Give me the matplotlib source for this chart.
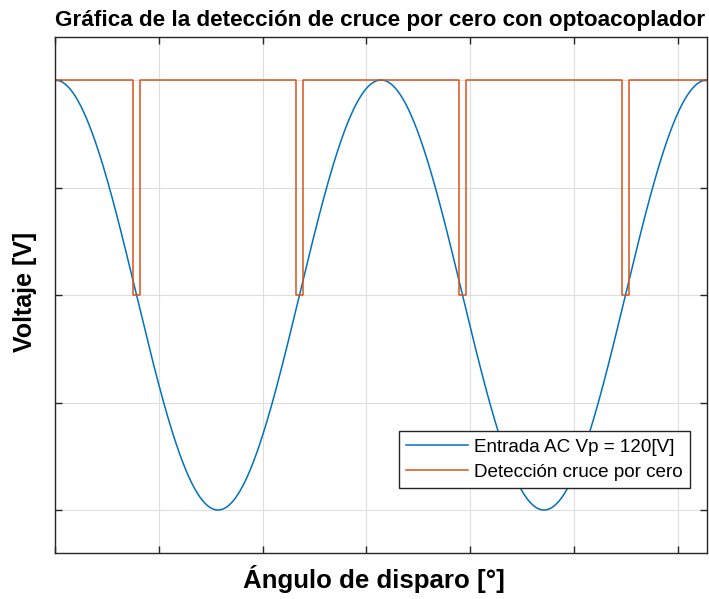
import numpy as np
import matplotlib.pyplot as plt

plt.rcParams['font.family'] = ['Liberation Sans', 'DejaVu Sans']

# Señal de entrada
Vp = 120.0                      # amplitud pico [V]
theta_max = 4 * np.pi           # dos ciclos completos

# Detector de cruce por cero (pulsos a 0 V)
cruces = [np.pi / 2, 3 * np.pi / 2, 5 * np.pi / 2, 7 * np.pi / 2]
ancho_pulso = 0.135             # ancho de cada pulso [rad]
nivel_alto = 120.0
nivel_bajo = 0.0

xticks = [0, 2, 4, 6, 8, 10, 12]
yticks = [-120, -60, 0, 60, 120]

azul = '#0072BD'
naranja = '#D95319'

theta = np.linspace(0, theta_max, 2000)
vin = Vp * np.cos(theta)

# Tren de pulsos: alto salvo alrededor de cada cruce
xs, ys = [0.0], [nivel_alto]
for c in cruces:
    a, b = c - ancho_pulso / 2, c + ancho_pulso / 2
    xs += [a, a, b, b]
    ys += [nivel_alto, nivel_bajo, nivel_bajo, nivel_alto]
xs.append(theta_max)
ys.append(nivel_alto)

fig = plt.figure(figsize=(7.09, 5.99), dpi=100)
ax = fig.add_axes([55 / 709, 1 - 553 / 599, 652 / 709, 516 / 599])

ax.plot(theta, vin, color=azul, lw=1.1, label='Entrada AC Vp = 120[V]')
ax.plot(xs, ys, color=naranja, lw=1.1, label='Detección cruce por cero')

ax.set_xlim(0, theta_max)
ax.set_ylim(-1.2 * Vp, 1.2 * Vp)
ax.set_xticks(xticks)
ax.set_yticks(yticks)
ax.set_xticklabels([])
ax.set_yticklabels([])
ax.tick_params(direction='in', length=5, width=1, color='#262626',
               top=True, right=True)
ax.grid(True, color='#dedede', lw=0.8)
ax.set_axisbelow(True)
for s in ax.spines.values():
    s.set_color('#262626')
    s.set_linewidth(1)

fig.text(380 / 709, 1 - 26 / 599, 'Gráfica de la detección de cruce por cero con optoacoplador',
         ha='center', va='baseline', fontsize=16.2, fontweight='bold')
fig.text(374 / 709, 1 - 588 / 599, 'Ángulo de disparo [°]',
         ha='center', va='baseline', fontsize=18.6, fontweight='bold')
fig.text(25 / 709, 1 - 292 / 599, 'Voltaje [V]', rotation=90,
         ha='center', va='center', fontsize=18, fontweight='bold')

leg = ax.legend(loc='lower right', bbox_to_anchor=(0.974, 0.126), borderaxespad=0,
                fontsize=13.6, fancybox=False, framealpha=1, handlelength=3.3,
                handletextpad=0.32, labelspacing=0.42, borderpad=0.38)
leg.get_frame().set_edgecolor('#262626')
leg.get_frame().set_linewidth(1)

fig.savefig('out.png', dpi=100)
